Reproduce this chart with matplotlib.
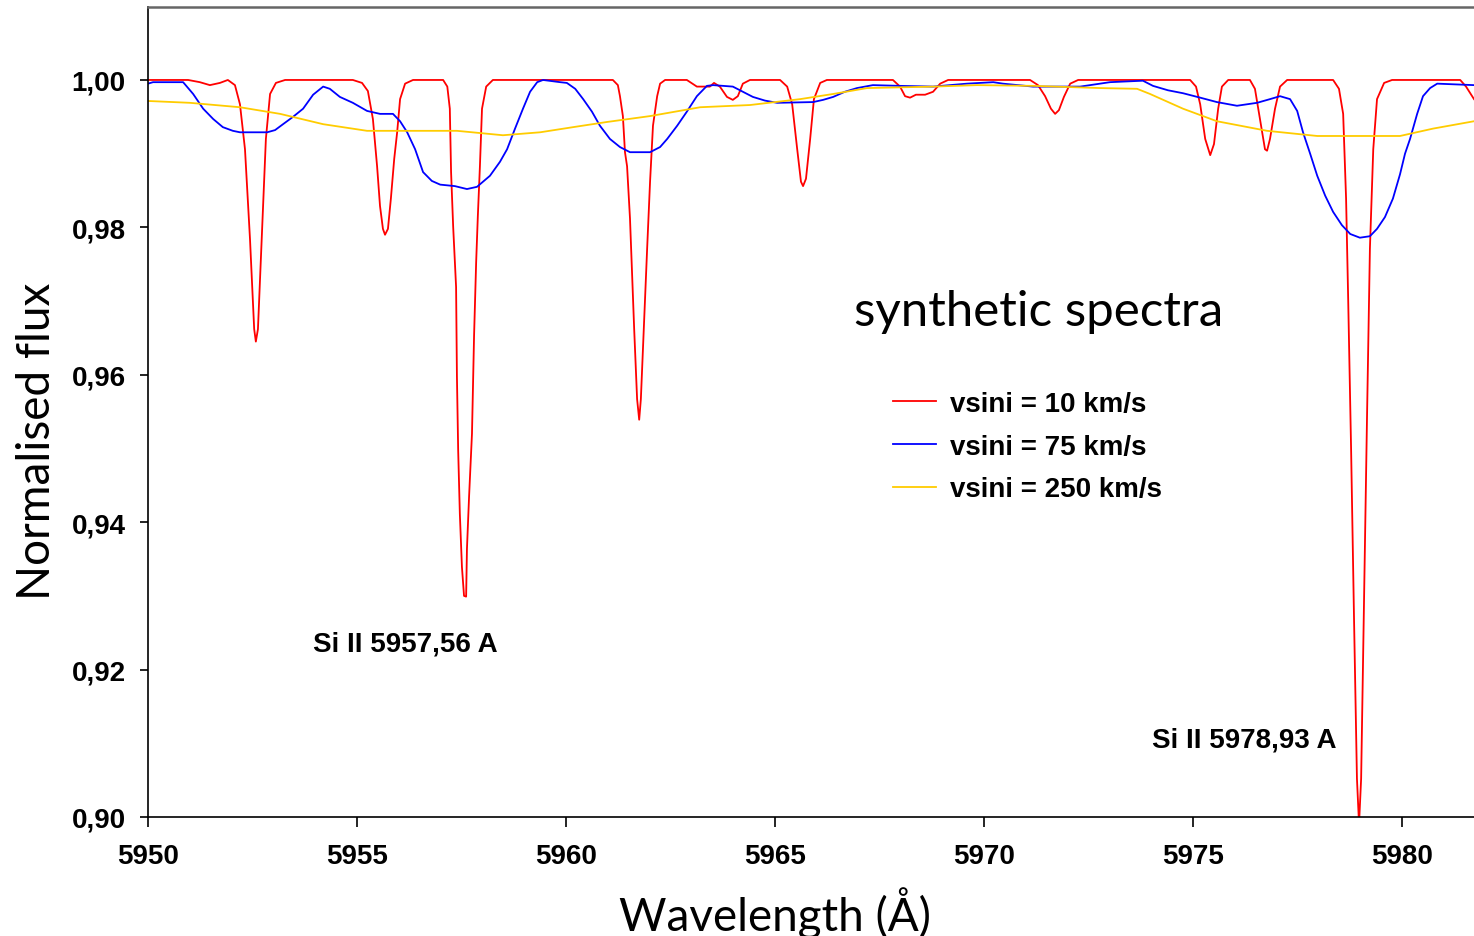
import matplotlib as mpl
mpl.use('Agg')
import matplotlib.pyplot as plt
import numpy as np

# vsini = 10 km/s
wl_10 = [5950.00, 5950.96, 5951.24, 5951.48, 5951.72, 5951.91, 5952.08, 5952.20, 5952.32, 5952.44,
         5952.54, 5952.58, 5952.63, 5952.73, 5952.82, 5952.92, 5953.06, 5953.28, 5954.90, 5955.12,
         5955.26, 5955.38, 5955.48, 5955.55, 5955.62, 5955.67, 5955.74, 5955.81, 5955.89, 5955.96,
         5956.03, 5956.15, 5956.34, 5957.06, 5957.16, 5957.22, 5957.25, 5957.30, 5957.37, 5957.39,
         5957.42, 5957.46, 5957.51, 5957.56, 5957.61, 5957.63, 5957.68, 5957.75, 5957.80, 5957.85,
         5957.89, 5957.94, 5957.99, 5958.09, 5958.25, 5961.12, 5961.24, 5961.29, 5961.36, 5961.41,
         5961.46, 5961.53, 5961.63, 5961.70, 5961.75, 5961.79, 5961.87, 5961.94, 5962.01, 5962.08,
         5962.18, 5962.25, 5962.37, 5962.89, 5963.13, 5963.44, 5963.54, 5963.68, 5963.85, 5963.99,
         5964.11, 5964.23, 5964.40, 5965.12, 5965.29, 5965.41, 5965.53, 5965.62, 5965.67, 5965.74,
         5965.84, 5965.93, 5966.08, 5966.24, 5967.82, 5967.99, 5968.11, 5968.23, 5968.37, 5968.59,
         5968.78, 5968.95, 5969.14, 5971.10, 5971.29, 5971.46, 5971.60, 5971.70, 5971.79, 5971.91,
         5972.06, 5972.25, 5974.93, 5975.07, 5975.17, 5975.29, 5975.41, 5975.50, 5975.60, 5975.69,
         5975.84, 5976.36, 5976.48, 5976.60, 5976.72, 5976.77, 5976.84, 5976.96, 5977.08, 5977.25,
         5978.35, 5978.49, 5978.59, 5978.66, 5978.71, 5978.78, 5978.85, 5978.92, 5978.97, 5979.02,
         5979.09, 5979.16, 5979.23, 5979.31, 5979.40, 5979.57, 5979.76, 5981.39, 5981.53, 5981.72]
flux_10 = [1.0000, 1.0000, 0.9997, 0.9993, 0.9996, 1.0000, 0.9993, 0.9967, 0.9906, 0.9784,
           0.9662, 0.9645, 0.9662, 0.9798, 0.9920, 0.9981, 0.9996, 1.0000, 1.0000, 0.9996,
           0.9985, 0.9947, 0.9883, 0.9829, 0.9798, 0.9790, 0.9798, 0.9839, 0.9893, 0.9929,
           0.9974, 0.9995, 1.0000, 1.0000, 0.9991, 0.9961, 0.9875, 0.9801, 0.9719, 0.9598,
           0.9497, 0.9411, 0.9339, 0.9300, 0.9299, 0.9364, 0.9434, 0.9520, 0.9653, 0.9753,
           0.9815, 0.9883, 0.9961, 0.9991, 1.0000, 1.0000, 0.9993, 0.9978, 0.9951, 0.9902,
           0.9883, 0.9812, 0.9662, 0.9567, 0.9539, 0.9567, 0.9676, 0.9771, 0.9862, 0.9938,
           0.9978, 0.9995, 1.0000, 1.0000, 0.9991, 0.9991, 0.9996, 0.9991, 0.9977, 0.9973,
           0.9978, 0.9995, 1.0000, 1.0000, 0.9991, 0.9967, 0.9906, 0.9862, 0.9856, 0.9866,
           0.9920, 0.9974, 0.9996, 1.0000, 1.0000, 0.9991, 0.9978, 0.9976, 0.9980, 0.9980,
           0.9984, 0.9995, 1.0000, 1.0000, 0.9993, 0.9978, 0.9961, 0.9954, 0.9959, 0.9977,
           0.9995, 1.0000, 1.0000, 0.9991, 0.9967, 0.9920, 0.9898, 0.9913, 0.9961, 0.9991,
           1.0000, 1.0000, 0.9988, 0.9947, 0.9906, 0.9904, 0.9920, 0.9961, 0.9991, 1.0000,
           1.0000, 0.9988, 0.9954, 0.9839, 0.9703, 0.9499, 0.9269, 0.9052, 0.8990, 0.9052,
           0.9296, 0.9540, 0.9771, 0.9906, 0.9974, 0.9996, 1.0000, 1.0000, 0.9991, 0.9974]

# vsini = 75 km/s
wl_75 = [5950.00, 5950.12, 5950.84, 5951.08, 5951.32, 5951.56, 5951.79, 5952.03, 5952.20, 5952.85,
         5953.04, 5953.23, 5953.47, 5953.71, 5953.95, 5954.19, 5954.35, 5954.59, 5954.90, 5955.24,
         5955.55, 5955.86, 5956.03, 5956.20, 5956.39, 5956.58, 5956.79, 5956.99, 5957.34, 5957.63,
         5957.87, 5958.18, 5958.42, 5958.59, 5958.78, 5958.97, 5959.14, 5959.31, 5959.45, 5959.86,
         5960.02, 5960.22, 5960.41, 5960.62, 5960.81, 5961.05, 5961.29, 5961.53, 5962.01, 5962.25,
         5962.42, 5962.66, 5962.89, 5963.13, 5963.37, 5963.52, 5963.99, 5964.23, 5964.47, 5964.76,
         5965.05, 5965.91, 5966.15, 5966.39, 5966.67, 5966.96, 5967.34, 5967.99, 5968.78, 5969.59,
         5970.22, 5970.45, 5971.17, 5972.30, 5973.01, 5973.80, 5974.04, 5974.40, 5974.76, 5975.17,
         5975.57, 5976.05, 5976.53, 5976.84, 5977.08, 5977.32, 5977.49, 5977.63, 5977.80, 5977.97,
         5978.16, 5978.35, 5978.56, 5978.76, 5978.99, 5979.23, 5979.40, 5979.59, 5979.78, 5979.95,
         5980.07, 5980.19, 5980.36, 5980.50, 5980.67, 5980.84, 5981.72]
flux_75 = [0.9995, 0.9997, 0.9997, 0.9981, 0.9961, 0.9947, 0.9936, 0.9931, 0.9929, 0.9929,
           0.9932, 0.9940, 0.9950, 0.9961, 0.9980, 0.9991, 0.9988, 0.9977, 0.9969, 0.9958,
           0.9954, 0.9954, 0.9944, 0.9929, 0.9906, 0.9875, 0.9863, 0.9858, 0.9856, 0.9852,
           0.9855, 0.9870, 0.9889, 0.9906, 0.9934, 0.9961, 0.9984, 0.9997, 1.0000, 0.9997,
           0.9996, 0.9988, 0.9974, 0.9957, 0.9938, 0.9920, 0.9909, 0.9902, 0.9902, 0.9909,
           0.9920, 0.9938, 0.9957, 0.9978, 0.9992, 0.9993, 0.9991, 0.9984, 0.9977, 0.9972,
           0.9969, 0.9970, 0.9973, 0.9977, 0.9984, 0.9989, 0.9993, 0.9992, 0.9991, 0.9995,
           0.9997, 0.9995, 0.9991, 0.9991, 0.9997, 0.9999, 0.9992, 0.9986, 0.9982, 0.9976,
           0.9970, 0.9965, 0.9969, 0.9974, 0.9978, 0.9974, 0.9958, 0.9929, 0.9900, 0.9870,
           0.9843, 0.9821, 0.9803, 0.9791, 0.9786, 0.9788, 0.9798, 0.9814, 0.9839, 0.9872,
           0.9900, 0.9920, 0.9954, 0.9978, 0.9989, 0.9995, 0.9993]

# vsini = 250 km/s
wl_250 = [5950.00, 5951.00, 5952.20, 5953.16, 5954.19, 5955.24, 5957.39, 5958.49, 5959.38, 5960.17,
          5960.98, 5962.01, 5963.21, 5964.40, 5965.60, 5966.39, 5967.20, 5968.78, 5969.83, 5971.17,
          5972.78, 5973.66, 5973.97, 5974.76, 5975.57, 5976.77, 5977.97, 5979.95, 5980.74, 5981.72]
flux_250 = [0.99715, 0.9969, 0.9963, 0.9954, 0.9940, 0.9931, 0.9931, 0.9925, 0.9929, 0.9936,
            0.9943, 0.9951, 0.9963, 0.9966, 0.9974, 0.9981, 0.9989, 0.9991, 0.9993, 0.9992,
            0.9989, 0.9988, 0.9981, 0.9961, 0.9944, 0.9931, 0.9924, 0.9924, 0.9934, 0.9944]

xticks = [5950, 5955, 5960, 5965, 5970, 5975, 5980]
yticks = [0.90, 0.92, 0.94, 0.96, 0.98, 1.00]
ytick_labels = ['0,90', '0,92', '0,94', '0,96', '0,98', '1,00']

series = [
    (wl_10, flux_10, '#FF0000', 'vsini = 10 km/s'),
    (wl_75, flux_75, '#0000FF', 'vsini = 75 km/s'),
    (wl_250, flux_250, '#FFCC00', 'vsini = 250 km/s'),
]

W, H = 1474, 937
fig = plt.figure(figsize=(W / 100, H / 100), dpi=100)
ax = fig.add_axes([148 / W, 1 - 818 / H, 1 - 148 / W, (818 - 8) / H])

for wl, fl, col, lab in series:
    ax.plot(wl, fl, color=col, lw=1.3, label=lab)

ax.set_xlim(5950, 5981.72)
ax.set_ylim(0.90, 1.0099)
ax.set_xticks(xticks)
ax.set_xticklabels([str(t) for t in xticks])
ax.set_yticks(yticks)
ax.set_yticklabels(ytick_labels)

bold = dict(family='Liberation Sans', weight='bold', size=20)
for lbl in ax.get_xticklabels() + ax.get_yticklabels():
    lbl.set_fontproperties(mpl.font_manager.FontProperties(**bold))
ax.tick_params(axis='y', direction='out', length=6, width=1.2, pad=10)
ax.tick_params(axis='x', direction='out', length=7, width=1.2, pad=12)

ax.spines['right'].set_visible(False)
ax.spines['top'].set_color('#666666')
ax.spines['top'].set_linewidth(1.8)
ax.spines['left'].set_linewidth(1.2)
ax.spines['bottom'].set_linewidth(1.2)

# annotations
ax.text(5953.95, 0.9235, 'Si II 5957,56 A', ha='left', va='center', **bold)
ax.text(5974.02, 0.9105, 'Si II 5978,93 A', ha='left', va='center', **bold)
ax.text(5966.9, 0.9687, 'synthetic spectra', ha='left', va='center',
        family='Lato', size=35.5)

leg = ax.legend(loc='upper left', bbox_to_anchor=(0.5618, 0.526), frameon=False,
                prop=mpl.font_manager.FontProperties(**bold),
                handlelength=1.55, handletextpad=0.5, labelspacing=0.6,
                borderpad=0, borderaxespad=0)

fig.text(37 / W, 1 - 441 / H, 'Normalised flux', rotation=90, ha='center', va='center',
         family='Lato', size=33)
fig.text(775 / W, 1 - 913 / H, 'Wavelength (Å)', ha='center', va='center',
         family='Lato', size=33)

fig.savefig('out.png', dpi=100)
